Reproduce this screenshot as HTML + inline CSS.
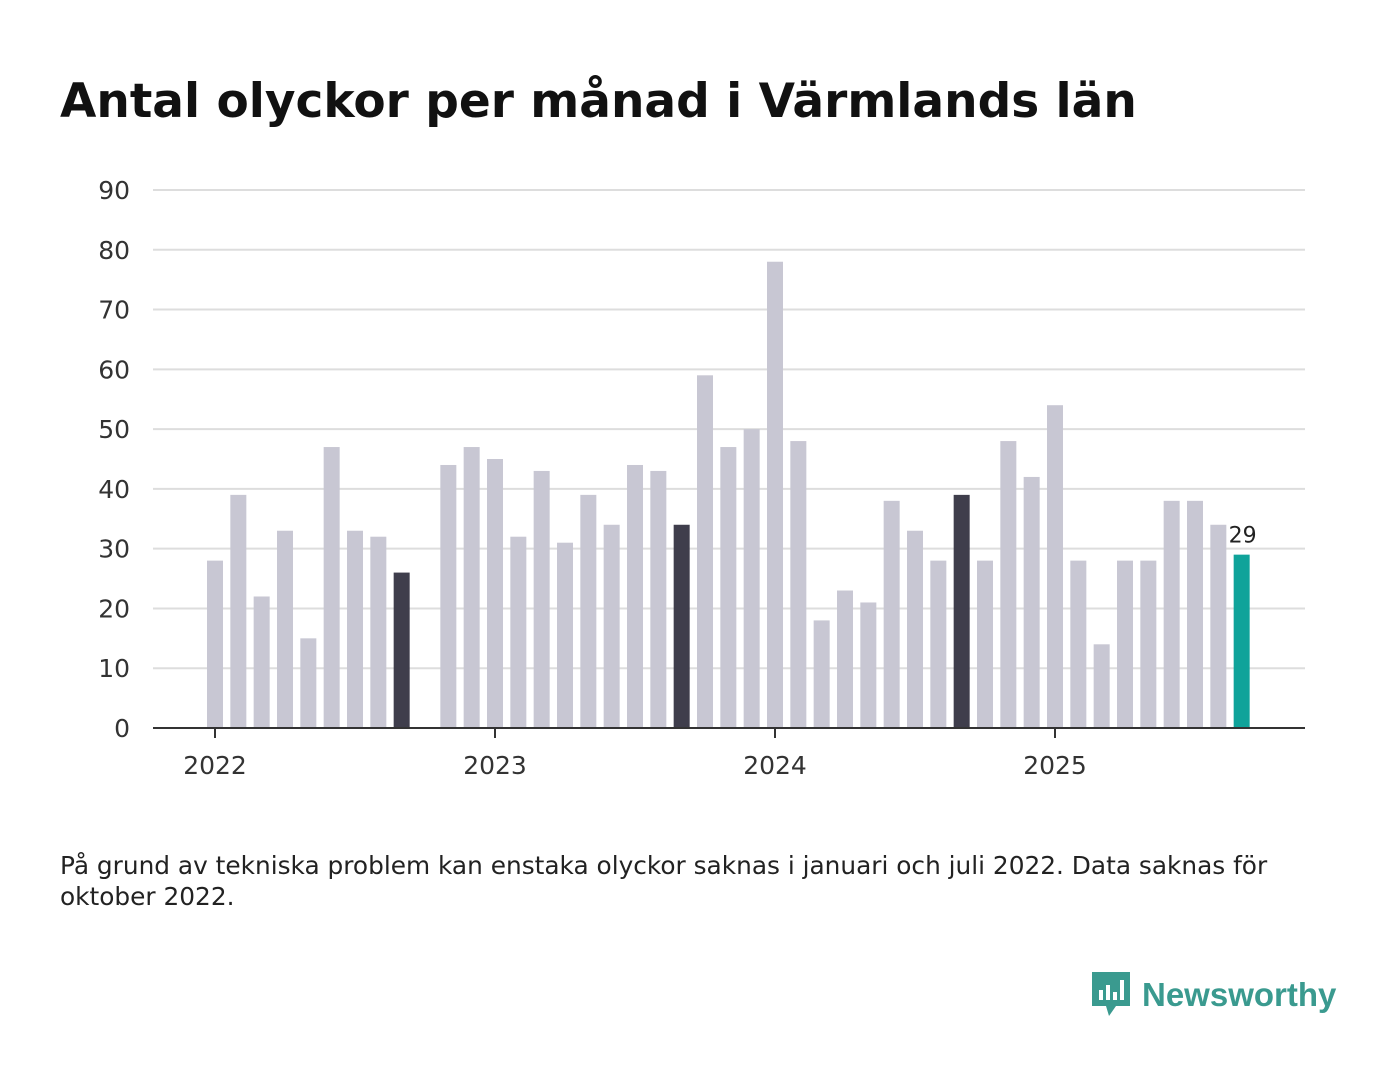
<!DOCTYPE html>
<html><head><meta charset="utf-8"><style>
body{margin:0;width:1400px;height:1080px;background:#fff;font-family:"DejaVu Sans","Liberation Sans",sans-serif;overflow:hidden;position:relative}
h1{position:absolute;left:60px;top:74px;margin:0;font-size:47px;font-weight:bold;color:#111;letter-spacing:0px;font-family:"DejaVu Sans",sans-serif;white-space:nowrap}
.note{position:absolute;left:60px;top:850px;font-size:24.8px;color:#222;line-height:31px;width:1260px;font-family:"DejaVu Sans",sans-serif}
.logo{position:absolute;left:1090px;top:970px;display:flex;align-items:center}
.logo span{font-size:33px;font-weight:bold;color:#3a9a8f;margin-left:10px;font-family:"Liberation Sans",sans-serif}
</style></head><body>
<h1>Antal olyckor per månad i Värmlands län</h1>
<svg id="chart" width="1400" height="800" style="position:absolute;left:0;top:0"></svg>
<div class="note">På grund av tekniska problem kan enstaka olyckor saknas i januari och juli 2022. Data saknas för oktober 2022.</div>
<div class="logo">
<svg width="42" height="50" viewBox="0 0 42 50"><path d="M2 2h38v34H26l-7 10-3-10H2z" fill="#3a9a8f"/><rect x="9" y="20" width="4" height="10" fill="#fff"/><rect x="16" y="15" width="4" height="15" fill="#fff"/><rect x="23" y="22" width="4" height="8" fill="#fff"/><rect x="30" y="10" width="4" height="20" fill="#fff"/></svg>
<span>Newsworthy</span></div>
<script>
const months=["2022-01","2022-02","2022-03","2022-04","2022-05","2022-06","2022-07","2022-08","2022-09","2022-10","2022-11","2022-12",
"2023-01","2023-02","2023-03","2023-04","2023-05","2023-06","2023-07","2023-08","2023-09","2023-10","2023-11","2023-12",
"2024-01","2024-02","2024-03","2024-04","2024-05","2024-06","2024-07","2024-08","2024-09","2024-10","2024-11","2024-12",
"2025-01","2025-02","2025-03","2025-04","2025-05","2025-06","2025-07","2025-08","2025-09"];
const values=[28,39,22,33,15,47,33,32,26,null,44,47,
45,32,43,31,39,34,44,43,34,59,47,50,
78,48,18,23,21,38,33,28,39,28,48,42,
54,28,14,28,28,38,38,34,29];
const yTicks=[0,10,20,30,40,50,60,70,80,90];
const yearLabels=["2022","2023","2024","2025"];
const NS="http://www.w3.org/2000/svg";
const svg=document.getElementById('chart');
const x0=215,step=(1055-215)/36,yBase=728,yTop=190,yMax=90;
const xs=i=>x0+i*step;
const ys=v=>yBase-(v/yMax)*(yBase-yTop);
const FF='DejaVu Sans, sans-serif';
function mk(t,a){const e=document.createElementNS(NS,t);for(const k in a)e.setAttribute(k,a[k]);svg.appendChild(e);return e;}
yTicks.forEach(t=>{
  if(t>0){const g=mk('line',{x1:153,x2:1305,y1:ys(t),y2:ys(t),stroke:'#dddddd','stroke-width':2});
  
  }
  const l=mk('text',{x:130,y:ys(t)+9,'text-anchor':'end','font-size':25,fill:'#333','font-family':FF});
  l.textContent=t;
  
  
});
const last=values.length-1;
values.forEach((v,i)=>{
  if(v==null)return;
  const m=months[i].slice(5);
  let c='#c8c7d3';
  if(m==="09")c='#3f3e4c';
  if(i===last)c='#0fa39a';
  const r=mk('rect',{x:xs(i)-8,y:ys(v),width:16,height:yBase-ys(v),fill:c});
  
  
});
const vl=mk('text',{x:xs(last)+1,y:ys(values[last])-12,'text-anchor':'middle','font-size':22,fill:'#222','font-family':FF});
vl.textContent=values[last];


const ax=mk('line',{x1:153,x2:1305,y1:yBase,y2:yBase,stroke:'#333','stroke-width':2});


yearLabels.forEach((y,k)=>{
  const x=xs(k*12);
  const tk=mk('line',{x1:x,x2:x,y1:yBase,y2:yBase+10,stroke:'#333','stroke-width':2});
  
  
  const t=mk('text',{x:x,y:774,'text-anchor':'middle','font-size':25,fill:'#333','font-family':FF});
  t.textContent=y;
  
  
});
</script>
</body></html>
